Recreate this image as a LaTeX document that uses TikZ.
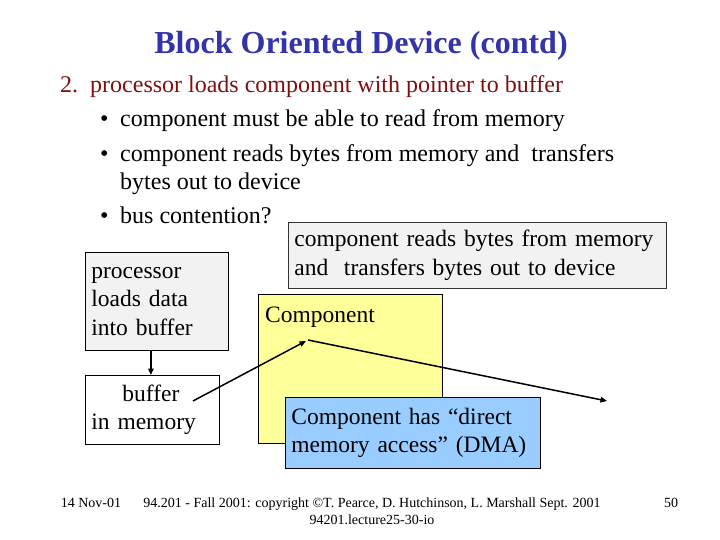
\documentclass[tikz,border=0pt]{standalone}
\usepackage{fontspec}
\setmainfont{Liberation Serif}
\usetikzlibrary{arrows.meta,calc}
\definecolor{titleblue}{RGB}{51,51,170}
\definecolor{headred}{RGB}{128,16,16}
\definecolor{boxgray}{RGB}{242,242,242}
\definecolor{boxyellow}{RGB}{255,255,153}
\definecolor{boxblue}{RGB}{153,204,255}
\tikzset{
  txt/.style={anchor=base west, inner sep=0pt, font=\fontsize{24}{28}\selectfont},
  boxtxt/.style={font=\fontsize{23.5}{28.5}\selectfont},
  box/.style={draw=black, line width=0.8pt, anchor=north west, align=left, inner sep=6pt, boxtxt},
  foot/.style={inner sep=0pt, anchor=base, font=\fontsize{14}{16}\selectfont},
  arr/.style={-{Triangle[length=6.5pt,width=5.5pt]}, line width=1.5pt, black}
}
\begin{document}
\begin{tikzpicture}[x=1pt,y=-1pt]
\useasboundingbox (0,0) rectangle (720,540);
\fill[white] (0,0) rectangle (720,540);
% title
\node[anchor=base, inner sep=0pt, text=titleblue, font=\fontsize{32}{35}\selectfont\bfseries] (title) at (361,54) {Block Oriented Device (contd)};
% list
\node[txt, text=headred] (l1) at (60,93) {2.\ \ processor loads component with pointer to buffer};
\node[txt] (b1) at (100,127) {\textbullet};
\node[txt] (t1) at (120,127) {component must be able to read from memory};
\node[txt] (b2) at (100,162) {\textbullet};
\node[txt] (t2) at (120,162) {component reads bytes from memory and\ \ transfers};
\node[txt] (t2b) at (120,190) {bytes out to device};
\node[txt] (b3) at (100,224) {\textbullet};
\node[txt] (t3) at (120,224) {bus contention?};
% boxes
\node[box, fill=boxgray, draw=black!80, minimum width=378pt, minimum height=66pt, text width=366pt] (note) at (288,222)
  {component reads bytes from memory\\and\ \ transfers bytes out to device};
\node[box, fill=boxgray, minimum width=143pt, minimum height=98pt, text width=131pt] (proc) at (85,252)
  {processor\\loads data\\into buffer};
\node[box, fill=boxyellow, minimum width=184pt, minimum height=149pt] (comp) at (258,294) {};
\node[anchor=base west, inner sep=0pt, boxtxt] (complbl) at (265,322) {Component};
\node[box, fill=boxblue, minimum width=255pt, minimum height=71pt, text width=243pt] (dma) at (285,397)
  {Component has “direct\\memory access” (DMA)};
\node[box, fill=white, minimum width=134pt, minimum height=69pt, text width=122pt] (buf) at (85,375)
  {\hspace*{31pt}buffer\\in memory};
% connectors
\coordinate (bufout) at (193,401);
\coordinate (compin) at (306,341);
\coordinate (compout) at (308,340);
\coordinate (devout) at (607,401);
\draw[arr] ([xshift=-6pt]proc.south) -- ([xshift=-6pt]proc.south |- buf.north);
\draw[arr] (bufout) -- (compin);
\draw[arr] (compout) -- (devout);
% footer
\node[foot] (date) at (91,507) {14 Nov-01};
\node[foot] (copy) at (372,507) {94.201 - Fall 2001: copyright ©T. Pearce, D. Hutchinson, L. Marshall Sept. 2001};
\node[foot] (file) at (372,524) {94201.lecture25-30-io};
\node[foot] (page) at (671,507) {50};
\end{tikzpicture}
\end{document}
